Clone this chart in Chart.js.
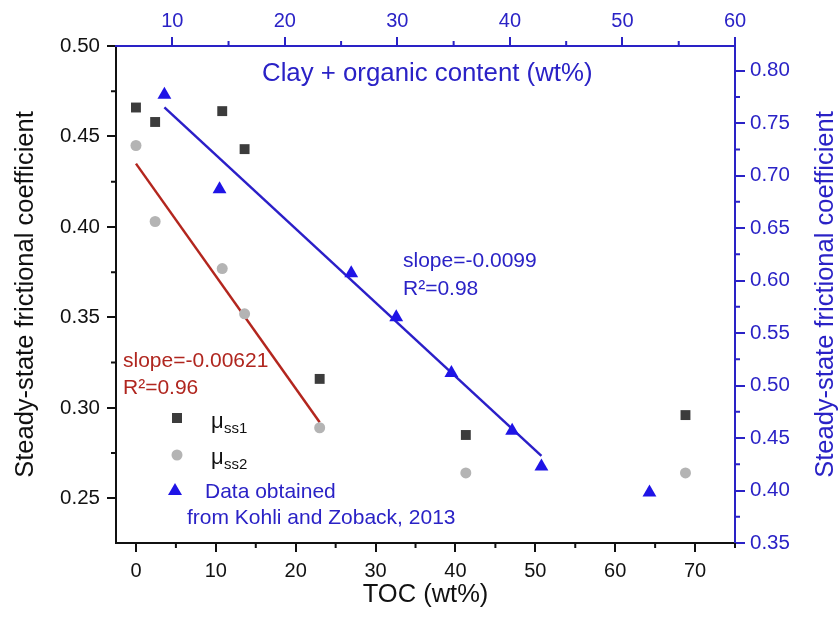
<!DOCTYPE html>
<html>
<head>
<meta charset="utf-8">
<script src="https://cdn.jsdelivr.net/npm/chart.js@4.4.0/dist/chart.umd.min.js"></script>
<style>
  body { margin: 0; background: #fff; }
  #wrap { width: 839px; height: 622px; }
</style>
</head>
<body>
<div id="wrap"><canvas id="chart"></canvas></div>
<script>
// TOC series (bottom / left axes)
const toc = [0, 2.4, 10.8, 13.6, 23.0, 41.3, 68.8];
const muSs1 = [0.466, 0.458, 0.464, 0.443, 0.316, 0.285, 0.296];
const muSs2 = [0.445, 0.403, 0.377, 0.352, 0.289, 0.264, 0.264];

// Kohli and Zoback 2013 (top / right axes)
const clayOrganic = [9.3, 14.2, 25.9, 29.9, 34.8, 40.2, 42.8, 52.4];
const kohliMu = [0.777, 0.687, 0.607, 0.565, 0.512, 0.457, 0.423, 0.398];

// fitted lines (end points)
const redFitX = [0, 23];
const redFitY = [0.435, 0.292];
const blueFitX = [9.3, 42.8];
const blueFitY = [0.765, 0.433];

// ticks
const tocTicks = [0, 10, 20, 30, 40, 50, 60, 70];
const tocMinor = [5, 15, 25, 35, 45, 55, 65, 75];
const clayTicks = [10, 20, 30, 40, 50, 60];
const clayMinor = [15, 25, 35, 45, 55];
const leftTicks = [0.25, 0.30, 0.35, 0.40, 0.45, 0.50];
const leftMinor = [0.275, 0.325, 0.375, 0.425, 0.475];
const rightTicks = [0.35, 0.40, 0.45, 0.50, 0.55, 0.60, 0.65, 0.70, 0.75, 0.80];
const rightMinor = [0.375, 0.425, 0.475, 0.525, 0.575, 0.625, 0.675, 0.725, 0.775];

const BLUE = '#2a22c6';
const FONT = '"Liberation Sans", Arial, sans-serif';
Chart.defaults.font.family = FONT;

function pts(xs, ys) {
    return xs.map((x, i) => ({ x: x, y: ys[i] }));
}

function setTicks(list) {
    return scale => { scale.ticks = list.map(v => ({ value: v })); };
}

function drawMinor(ctx, scale, values, color, len) {
    ctx.strokeStyle = color;
    ctx.lineWidth = 2;
    ctx.beginPath();
    values.forEach(v => {
        const p = scale.getPixelForValue(v);
        if (scale.position === 'bottom') { ctx.moveTo(p, scale.top); ctx.lineTo(p, scale.top + len); }
        if (scale.position === 'top') { ctx.moveTo(p, scale.bottom); ctx.lineTo(p, scale.bottom - len); }
        if (scale.position === 'left') { ctx.moveTo(scale.right, p); ctx.lineTo(scale.right - len, p); }
        if (scale.position === 'right') { ctx.moveTo(scale.left, p); ctx.lineTo(scale.left + len, p); }
    });
    ctx.stroke();
}

function text(ctx, str, x, y, size, color) {
    ctx.font = size + 'px ' + FONT;
    ctx.fillStyle = color;
    ctx.fillText(str, x, y);
}

const notes = {
    id: 'notes',
    afterDraw(chart) {
        const ctx = chart.ctx;
        const a = chart.chartArea;
        const s = chart.scales;
        ctx.save();

        drawMinor(ctx, s.x, tocMinor, '#111', 5);
        drawMinor(ctx, s.y, leftMinor, '#111', 5);
        drawMinor(ctx, s.x2, clayMinor, BLUE, 5);
        drawMinor(ctx, s.y2, rightMinor, BLUE, 5);

        ctx.textAlign = 'left';
        ctx.textBaseline = 'alphabetic';

        text(ctx, 'Clay + organic content (wt%)', a.left + 146, a.top + 35, 25.8, BLUE);

        text(ctx, 'slope=-0.00621', a.left + 7, 367, 21, '#b0261f');
        text(ctx, 'R²=0.96', a.left + 7, 394, 21, '#b0261f');
        text(ctx, 'slope=-0.0099', 403, 267, 21, BLUE);
        text(ctx, 'R²=0.98', 403, 295, 21, BLUE);

        // legend
        ctx.fillStyle = '#3c3c3c';
        ctx.fillRect(172, 413, 10, 10);
        ctx.fillStyle = '#b4b4b4';
        ctx.beginPath();
        ctx.arc(177, 455, 5.5, 0, Math.PI * 2);
        ctx.fill();
        ctx.fillStyle = '#1f14e6';
        ctx.beginPath();
        ctx.moveTo(175, 483);
        ctx.lineTo(182, 495);
        ctx.lineTo(168, 495);
        ctx.closePath();
        ctx.fill();

        text(ctx, 'μ', 211, 428, 22, '#111');
        text(ctx, 'ss1', 224, 433, 15, '#111');
        text(ctx, 'μ', 211, 464, 22, '#111');
        text(ctx, 'ss2', 224, 469, 15, '#111');
        text(ctx, 'Data obtained', 205, 498, 21, BLUE);
        text(ctx, 'from Kohli and Zoback, 2013', 187, 524, 21, BLUE);

        // right axis title
        ctx.translate(826, (a.top + a.bottom) / 2);
        ctx.rotate(-Math.PI / 2);
        ctx.textAlign = 'center';
        ctx.textBaseline = 'middle';
        ctx.font = '25.5px ' + FONT;
        ctx.fillStyle = BLUE;
        ctx.fillText('Steady-state frictional coefficient', 0, 0);

        ctx.restore();
    }
};

const ctx = document.getElementById('chart').getContext('2d');
const chart = new Chart(ctx, {
    type: 'scatter',
    data: {
        datasets: [
            {
                label: 'μss1',
                data: pts(toc, muSs1),
                xAxisID: 'x', yAxisID: 'y',
                pointStyle: 'rect', pointRadius: 7, pointBorderWidth: 0,
                backgroundColor: '#3c3c3c'
            },
            {
                label: 'μss2',
                data: pts(toc, muSs2),
                xAxisID: 'x', yAxisID: 'y',
                pointStyle: 'circle', pointRadius: 5.5, pointBorderWidth: 0,
                backgroundColor: '#b4b4b4'
            },
            {
                label: 'Data obtained from Kohli and Zoback, 2013',
                data: pts(clayOrganic, kohliMu),
                xAxisID: 'x2', yAxisID: 'y2',
                pointStyle: 'triangle', pointRadius: 8, pointBorderWidth: 0,
                backgroundColor: '#1f14e6'
            },
            {
                label: 'fit ss2',
                data: pts(redFitX, redFitY),
                xAxisID: 'x', yAxisID: 'y',
                showLine: true, pointRadius: 0,
                borderColor: '#b3261e', borderWidth: 2.5
            },
            {
                label: 'fit Kohli',
                data: pts(blueFitX, blueFitY),
                xAxisID: 'x2', yAxisID: 'y2',
                showLine: true, pointRadius: 0,
                borderColor: '#2b1fc8', borderWidth: 2.5
            }
        ]
    },
    options: {
        responsive: true,
        maintainAspectRatio: false,
        animation: false,
        devicePixelRatio: 1,
        layout: { padding: 0 },
        plugins: {
            legend: { display: false },
            tooltip: { enabled: false }
        },
        scales: {
            x: {
                type: 'linear', position: 'bottom',
                min: -2.5, max: 75,
                afterBuildTicks: setTicks(tocTicks),
                afterFit: scale => { scale.height = 79; },
                ticks: { color: '#111', font: { size: 20 }, padding: 7, autoSkip: false, maxRotation: 0 },
                grid: { drawOnChartArea: false, tickLength: 9, lineWidth: 2, tickColor: '#111' },
                border: { display: true, color: '#111', width: 2 },
                title: { display: true, text: 'TOC (wt%)', color: '#111', font: { size: 25.5 }, padding: { top: 0, bottom: 12 } }
            },
            y: {
                type: 'linear', position: 'left',
                min: 0.2253, max: 0.50,
                afterBuildTicks: setTicks(leftTicks),
                afterFit: scale => { scale.width = 116; },
                ticks: { color: '#111', font: { size: 20.5 }, padding: 7, autoSkip: false, callback: v => v.toFixed(2) },
                grid: { drawOnChartArea: false, tickLength: 9, lineWidth: 2, tickColor: '#111' },
                border: { display: true, color: '#111', width: 2 },
                title: { display: true, text: 'Steady-state frictional coefficient', color: '#111', font: { size: 25.5 }, padding: { top: 11, bottom: 0 } }
            },
            x2: {
                type: 'linear', position: 'top',
                min: 5, max: 60,
                afterBuildTicks: setTicks(clayTicks),
                afterFit: scale => { scale.height = 46; },
                ticks: { color: BLUE, font: { size: 20 }, padding: 4, autoSkip: false, maxRotation: 0 },
                grid: { drawOnChartArea: false, tickLength: 9, lineWidth: 2, tickColor: BLUE },
                border: { display: true, color: BLUE, width: 2 }
            },
            y2: {
                type: 'linear', position: 'right',
                min: 0.35, max: 0.8235,
                afterBuildTicks: setTicks(rightTicks),
                afterFit: scale => { scale.width = 104; },
                ticks: { color: BLUE, font: { size: 20.5 }, padding: 5, autoSkip: false, callback: v => v.toFixed(2) },
                grid: { drawOnChartArea: false, tickLength: 10, lineWidth: 2, tickColor: BLUE },
                border: { display: true, color: BLUE, width: 2 }
            }
        }
    },
    plugins: [notes]
});
</script>
</body>
</html>
